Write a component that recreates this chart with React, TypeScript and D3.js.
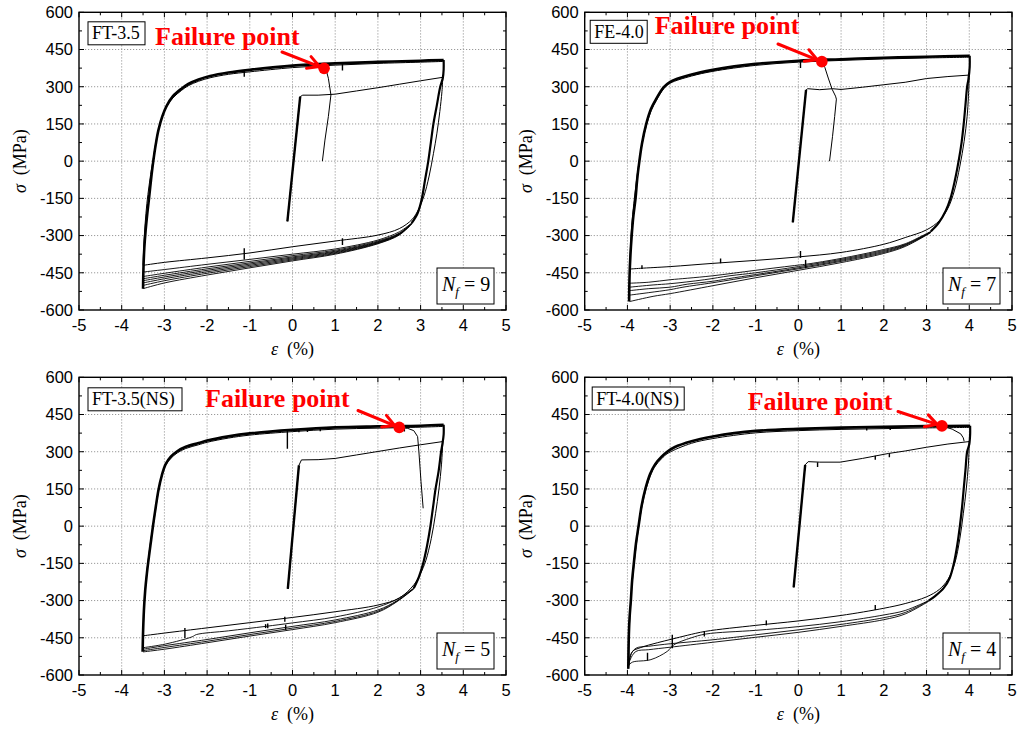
import React from 'react';
import * as d3 from 'd3';

type Pt = [number, number];
type Spike = [number, number, number];

// ---------- axes ----------
const xDomain: [number, number] = [-5, 5];
const yDomain: [number, number] = [-600, 600];
const xTicks = [-5, -4, -3, -2, -1, 0, 1, 2, 3, 4, 5];
const yTicks = [-600, -450, -300, -150, 0, 150, 300, 450, 600];
const xMinorTicks = [-4.5, -3.5, -2.5, -1.5, -0.5, 0.5, 1.5, 2.5, 3.5, 4.5];
const yMinorTicks = [-525, -375, -225, -75, 75, 225, 375, 525];

// ---------- Panel 1 : FT-3.5 ----------
const ft35Initial: Pt[] = [[-0.12, -243], [0.18, 260], [0.24, 266], [0.6, 266], [1.0, 270], [1.5, 283], [2.0, 296], [2.5, 310], [3.0, 324], [3.52, 338]];
const ft35FirstDown: Pt[] = [[3.52, 338], [3.5, 280], [3.45, 200], [3.38, 110], [3.3, 30], [3.2, -60], [3.08, -140], [2.95, -195], [2.8, -235], [2.5, -272], [2.0, -298], [1.0, -322], [0, -345], [-1, -370], [-2, -390], [-3, -408], [-3.5, -420]];
const ft35UpAlt: Pt[] = [[-3.5, -420], [-3.48, -330], [-3.45, -250], [-3.41, -170], [-3.36, -100], [-3.31, -40], [-3.27, 0], [-3.21, 65], [-3.15, 120], [-3.06, 175], [-2.96, 216], [-2.8, 255], [-2.6, 285], [-2.44, 304], [-2.2, 322], [-1.93, 336], [-1.5, 350], [-1, 360], [0, 377], [1, 387], [2, 394], [3, 399], [3.53, 402]];
const ft35UpMain: Pt[] = [[-3.5, -514], [-3.49, -430], [-3.47, -350], [-3.44, -280], [-3.4, -210], [-3.36, -150], [-3.31, -70], [-3.26, 0], [-3.2, 70], [-3.14, 125], [-3.05, 180], [-2.95, 222], [-2.8, 262], [-2.6, 292], [-2.44, 311], [-2.2, 329], [-1.93, 343], [-1.5, 357], [-1, 368], [0, 385], [1, 394], [2, 400], [3, 405], [3.54, 408]];
const ft35DownMain: Pt[] = [[3.54, 408], [3.54, 370], [3.52, 335], [3.46, 300], [3.38, 225], [3.3, 150], [3.24, 75], [3.18, 0], [3.1, -80], [3.03, -150], [2.93, -210], [2.79, -250]];
const ft35Tail1: Pt[] = [[2.79, -250], [2.5, -285], [2, -318], [1, -354], [0, -375], [-1, -396], [-2, -416], [-3, -437], [-3.5, -447]];
const ft35Tail2: Pt[] = [[2.79, -250], [2.5, -290], [2, -322], [1, -359], [0, -381], [-1, -404], [-2, -427], [-3, -452], [-3.5, -465]];
const ft35Tail3: Pt[] = [[2.79, -251], [2.5, -292], [2, -325], [1, -363], [0, -386], [-1, -410], [-2, -434], [-3, -460], [-3.5, -474]];
const ft35Tail4: Pt[] = [[2.79, -252], [2.5, -294], [2, -327], [1, -366], [0, -390], [-1, -415], [-2, -440], [-3, -467], [-3.5, -482]];
const ft35Tail5: Pt[] = [[2.79, -252], [2.5, -295], [2, -329], [1, -369], [0, -394], [-1, -420], [-2, -446], [-3, -474], [-3.5, -491]];
const ft35Tail6: Pt[] = [[2.79, -253], [2.5, -296], [2, -331], [1, -372], [0, -398], [-1, -425], [-2, -452], [-3, -482], [-3.5, -501]];
const ft35Tail7: Pt[] = [[2.79, -254], [2.5, -298], [2, -333], [1, -375], [0, -402], [-1, -430], [-2, -459], [-3, -491], [-3.5, -514]];
const ft35Failure: Pt[] = [[0.74, 375], [0.8, 360], [0.84, 334], [0.9, 267], [0.84, 180], [0.76, 85], [0.7, 0]];
const ft35FailurePt: Pt = [0.74, 374];
const ft35Spikes: Spike[] = [[-1.13, 366, 340], [1.17, 392, 365], [-1.13, -396, -351], [1.17, -338, -311]];

// ---------- Panel 2 : FE-4.0 ----------
const fe40Initial: Pt[] = [[-0.13, -247], [0.18, 287], [0.22, 292], [0.5, 288], [0.8, 292], [1.0, 289], [1.5, 298], [2.0, 308], [2.5, 318], [3.0, 333], [3.5, 341], [4.0, 347]];
const fe40FirstDown: Pt[] = [[4.0, 347], [3.98, 260], [3.95, 180], [3.88, 80], [3.78, -20], [3.65, -120], [3.5, -190], [3.3, -240], [3.0, -277], [2.5, -308], [2.0, -335], [1.0, -368], [0, -386], [-1, -400], [-2, -412], [-3, -425], [-3.7, -432], [-3.95, -435]];
const fe40UpAlt: Pt[] = [[-3.95, -435], [-3.93, -350], [-3.9, -260], [-3.85, -170], [-3.79, -80], [-3.73, -5], [-3.65, 75], [-3.55, 148], [-3.44, 205], [-3.32, 245], [-3.15, 292], [-3.0, 314], [-2.5, 343], [-2, 362], [-1, 386], [0, 399], [1, 406], [2, 412], [3, 416], [4.0, 419]];
const fe40UpMain: Pt[] = [[-3.96, -566], [-3.95, -460], [-3.93, -380], [-3.9, -300], [-3.86, -220], [-3.81, -150], [-3.77, -70], [-3.72, 0], [-3.66, 70], [-3.56, 150], [-3.45, 210], [-3.33, 250], [-3.15, 298], [-3.0, 320], [-2.5, 349], [-2, 368], [-1.5, 382], [-1, 392], [0, 405], [1, 411], [2, 417], [3, 421], [4.01, 425]];
const fe40DownMain: Pt[] = [[4.01, 425], [4.01, 380], [3.98, 330], [3.95, 300], [3.91, 225], [3.87, 150], [3.82, 75], [3.75, 0], [3.66, -80], [3.56, -150], [3.45, -200], [3.28, -250], [3.1, -283]];
const fe40Tail1: Pt[] = [[3.1, -283], [2.5, -333], [2, -356], [1, -392], [0.2, -415], [0, -419], [-1, -440], [-2, -462], [-2.6, -472], [-3, -478], [-3.5, -488], [-3.95, -492]];
const fe40Tail2: Pt[] = [[3.1, -285], [2.5, -336], [2, -360], [1, -396], [0, -425], [-1, -450], [-1.6, -462], [-2.2, -478], [-3, -494], [-3.4, -499], [-3.95, -508]];
const fe40Tail3: Pt[] = [[3.1, -286], [2.5, -338], [2, -364], [1, -400], [0, -430], [-0.8, -452], [-1.5, -470], [-2, -484], [-2.6, -496], [-3, -508], [-3.5, -514], [-3.95, -522]];
const fe40Tail4: Pt[] = [[3.1, -287], [2.5, -341], [2, -368], [1, -404], [0, -434], [-1, -462], [-2, -490], [-2.7, -508], [-3, -518], [-3.5, -530], [-3.95, -540]];
const fe40Tail5: Pt[] = [[3.1, -288], [2.5, -344], [2, -372], [1, -409], [0, -440], [-1, -470], [-2, -502], [-3, -534], [-3.4, -545], [-3.95, -566]];
const fe40Failure: Pt[] = [[0.55, 401], [0.62, 378], [0.7, 335], [0.79, 290], [0.87, 262], [0.89, 250], [0.85, 180], [0.8, 100], [0.73, 0]];
const fe40FailurePt: Pt = [0.55, 401];
const fe40Spikes: Spike[] = [[-3.66, -435, -420], [-1.82, -412, -392], [0.05, -390, -362], [0.17, -432, -398], [0.05, 403, 375]];

// ---------- Panel 3 : FT-3.5(NS) ----------
const ft35nsInitial: Pt[] = [[-0.11, -253], [0.15, 245], [0.21, 267], [0.6, 268], [1.0, 273], [1.5, 287], [2.0, 301], [2.5, 315], [3.0, 328], [3.52, 341]];
const ft35nsFirstDown: Pt[] = [[3.52, 341], [3.49, 250], [3.43, 150], [3.35, 50], [3.25, -50], [3.12, -140], [3.0, -190], [2.85, -235], [2.5, -290], [2.0, -318], [1.0, -345], [0, -368], [-1, -389], [-2, -410], [-3, -431], [-3.5, -442]];
const ft35nsUpAlt: Pt[] = [[-3.5, -442], [-3.48, -350], [-3.45, -260], [-3.41, -180], [-3.36, -110], [-3.31, -45], [-3.255, 10], [-3.2, 75], [-3.14, 140], [-3.07, 198], [-2.98, 243], [-2.85, 273], [-2.7, 295], [-2.5, 313], [-2.2, 328], [-2, 338], [-1.5, 355], [-1, 367], [0, 381], [1, 391], [2, 395], [3, 399], [3.53, 402]];
const ft35nsUpMain: Pt[] = [[-3.51, -506], [-3.5, -430], [-3.48, -340], [-3.45, -260], [-3.41, -190], [-3.36, -120], [-3.31, -55], [-3.26, 10], [-3.2, 80], [-3.14, 145], [-3.06, 205], [-2.97, 250], [-2.85, 280], [-2.7, 302], [-2.5, 320], [-2.2, 335], [-2, 345], [-1.5, 362], [-1, 374], [0, 388], [1, 398], [2, 402], [3, 405], [3.54, 409]];
const ft35nsDownMain: Pt[] = [[3.54, 409], [3.54, 370], [3.51, 330], [3.48, 300], [3.42, 220], [3.35, 150], [3.29, 75], [3.23, 0], [3.15, -80], [3.06, -150], [2.96, -205], [2.84, -250]];
const ft35nsTail1: Pt[] = [[2.84, -250], [2.45, -294], [2, -326], [1, -366], [0, -390], [-0.63, -404], [-1.5, -422], [-2.25, -437], [-2.35, -446], [-2.97, -475], [-3.5, -490]];
const ft35nsTail2: Pt[] = [[2.84, -251], [2.45, -300], [2, -338], [1, -378], [0, -404], [-1, -430], [-2, -457], [-3, -482], [-3.5, -496]];
const ft35nsTail3: Pt[] = [[2.84, -252], [2.45, -302], [2, -343], [1, -384], [0, -411], [-1, -437], [-2, -464], [-3, -489], [-3.5, -502]];
const ft35nsTail4: Pt[] = [[2.84, -253], [2.45, -304], [2, -347], [1, -389], [0, -417], [-1, -443], [-2, -470], [-3, -496], [-3.5, -507]];
const ft35nsFailure: Pt[] = [[2.5, 398], [2.7, 394], [2.84, 385], [2.93, 361], [2.96, 300], [3.01, 179], [3.06, 72]];
const ft35nsFailurePt: Pt = [2.5, 398];
const ft35nsSpikes: Spike[] = [[-0.12, 386, 312], [0.15, 392, 378], [0.35, 393, 380], [0.65, 395, 383], [2.62, 398, 382], [-2.52, -451, -411], [-0.63, -411, -395], [-0.16, -418, -397], [-0.18, -385, -365], [-0.58, -412, -392]];

// ---------- Panel 4 : FT-4.0(NS) ----------
const ft40nsInitial: Pt[] = [[-0.11, -247], [0.16, 247], [0.23, 260], [0.5, 258], [0.98, 258], [1.5, 273], [2.11, 293], [2.5, 303], [3.0, 318], [3.5, 331], [4.0, 341]];
const ft40nsFirstDown: Pt[] = [[4.0, 341], [3.98, 250], [3.93, 150], [3.86, 50], [3.78, -50], [3.66, -150], [3.5, -215], [3.3, -255], [3.0, -285], [2.5, -312], [2.0, -331], [1.0, -360], [0, -382], [-1, -400], [-2.17, -424], [-2.6, -440], [-2.95, -455], [-3.3, -470], [-3.7, -490], [-3.88, -505], [-3.95, -540], [-3.98, -572]];
const ft40nsUpAlt: Pt[] = [[-3.97, -565], [-3.96, -430], [-3.93, -330], [-3.89, -230], [-3.83, -130], [-3.77, -45], [-3.7, 40], [-3.61, 120], [-3.5, 185], [-3.37, 237], [-3.2, 272], [-3.05, 294], [-2.5, 334], [-2, 353], [-1, 376], [0, 385], [1, 390], [2, 393], [3, 396], [4.0, 398]];
const ft40nsUpMain: Pt[] = [[-3.98, -575], [-3.97, -460], [-3.95, -370], [-3.92, -300], [-3.89, -220], [-3.85, -150], [-3.8, -70], [-3.74, 0], [-3.67, 80], [-3.58, 150], [-3.47, 210], [-3.35, 250], [-3.2, 280], [-3.07, 300], [-2.9, 318], [-2.5, 342], [-2, 361], [-1.5, 375], [-1, 384], [0, 392], [1, 397], [2, 400], [3, 403], [4.02, 405]];
const ft40nsDownMain: Pt[] = [[4.02, 405], [4.02, 370], [4.0, 330], [3.95, 300], [3.91, 225], [3.87, 150], [3.83, 75], [3.78, 0], [3.72, -75], [3.64, -150], [3.54, -210], [3.4, -250], [3.2, -282], [3.05, -300]];
const ft40nsTail1: Pt[] = [[3.05, -300], [2.5, -340], [2, -358], [1, -385], [0, -405], [-1, -420], [-2.17, -435], [-2.52, -451], [-2.91, -478], [-3.07, -505], [-3.45, -538], [-3.88, -548], [-3.97, -560]];
const ft40nsTail2: Pt[] = [[3.05, -301], [2.5, -348], [2, -369], [1, -396], [0, -418], [-1, -438], [-2, -458], [-2.5, -466], [-3, -474], [-3.5, -484], [-3.8, -492], [-3.93, -520], [-3.97, -555]];
const ft40nsTail3: Pt[] = [[3.05, -303], [2.5, -354], [2, -377], [1, -404], [0, -428], [-1, -448], [-2, -468], [-3, -488], [-3.5, -498], [-3.8, -505], [-3.94, -540], [-3.98, -575]];
const ft40nsFailure: Pt[] = [[3.36, 404], [3.6, 391], [3.8, 372], [3.86, 356], [3.88, 342]];
const ft40nsFailurePt: Pt = [3.36, 404];
const ft40nsSpikes: Spike[] = [[0.45, 258, 238], [1.8, 284, 268], [2.13, 294, 278], [1.6, 398, 386], [2.15, 400, 388], [1.8, -338, -318], [-0.75, -400, -380], [-2.2, -445, -424], [-2.95, -492, -438], [-3.53, -542, -510]];

// ---------- layout ----------
interface PanelDef {
  id: string; label: string; nf: string;
  x0: number; x1: number; y0: number; y1: number;
  initial: Pt[]; firstDown: Pt[]; upAlt: Pt[]; upMain: Pt[]; downMain: Pt[]; tails: Pt[][];
  failure: Pt[]; failurePt: Pt; spikes: Spike[];
  box: { dx: number; dy: number; w: number };
  failText: { dx: number; dy: number };
  arrowStart: [number, number];
}

const panels: PanelDef[] = [
  {
    id: 'p1', label: 'FT-3.5', nf: '9', x0: 79, x1: 506, y0: 12.3, y1: 310,
    initial: ft35Initial, firstDown: ft35FirstDown, upAlt: ft35UpAlt, upMain: ft35UpMain, downMain: ft35DownMain,
    tails: [ft35Tail1, ft35Tail2, ft35Tail3, ft35Tail4, ft35Tail5, ft35Tail6, ft35Tail7],
    failure: ft35Failure, failurePt: ft35FailurePt, spikes: ft35Spikes,
    box: { dx: 9, dy: 9.5, w: 57 }, failText: { dx: 76, dy: 33 }, arrowStart: [282, 52],
  },
  {
    id: 'p2', label: 'FE-4.0', nf: '7', x0: 584.7, x1: 1012, y0: 12.3, y1: 310,
    initial: fe40Initial, firstDown: fe40FirstDown, upAlt: fe40UpAlt, upMain: fe40UpMain, downMain: fe40DownMain,
    tails: [fe40Tail1, fe40Tail2, fe40Tail3, fe40Tail4, fe40Tail5],
    failure: fe40Failure, failurePt: fe40FailurePt, spikes: fe40Spikes,
    box: { dx: 5.5, dy: 8, w: 57 }, failText: { dx: 70, dy: 22 }, arrowStart: [778, 44],
  },
  {
    id: 'p3', label: 'FT-3.5(NS)', nf: '5', x0: 79, x1: 506, y0: 377.3, y1: 675,
    initial: ft35nsInitial, firstDown: ft35nsFirstDown, upAlt: ft35nsUpAlt, upMain: ft35nsUpMain, downMain: ft35nsDownMain,
    tails: [ft35nsTail1, ft35nsTail2, ft35nsTail3, ft35nsTail4],
    failure: ft35nsFailure, failurePt: ft35nsFailurePt, spikes: ft35nsSpikes,
    box: { dx: 9, dy: 10.5, w: 94 }, failText: { dx: 126, dy: 29.5 }, arrowStart: [358, 410.5],
  },
  {
    id: 'p4', label: 'FT-4.0(NS)', nf: '4', x0: 584.7, x1: 1012, y0: 377.3, y1: 675,
    initial: ft40nsInitial, firstDown: ft40nsFirstDown, upAlt: ft40nsUpAlt, upMain: ft40nsUpMain, downMain: ft40nsDownMain,
    tails: [ft40nsTail1, ft40nsTail2, ft40nsTail3],
    failure: ft40nsFailure, failurePt: ft40nsFailurePt, spikes: ft40nsSpikes,
    box: { dx: 7.5, dy: 9.7, w: 92 }, failText: { dx: 163, dy: 33 }, arrowStart: [898, 411.5],
  },
];

const SERIF = "'Liberation Serif', 'Times New Roman', serif";
const SANS = "'Liberation Sans', Arial, sans-serif";
const RED = '#ff0000';

const Panel = ({ p }: { p: PanelDef }) => {
  const xs = d3.scaleLinear().domain(xDomain).range([p.x0, p.x1]);
  const ys = d3.scaleLinear().domain(yDomain).range([p.y1, p.y0]);
  const smooth = d3.line<Pt>().x(d => xs(d[0])).y(d => ys(d[1])).curve(d3.curveCatmullRom.alpha(0.5));
  const straight = d3.line<Pt>().x(d => xs(d[0])).y(d => ys(d[1]));
  const clipId = `clip-${p.id}`;

  const fx = xs(p.failurePt[0]);
  const fy = ys(p.failurePt[1]);
  const [sx, sy] = p.arrowStart;
  const ang = Math.atan2(fy - sy, fx - sx);
  const tipX = fx - Math.cos(ang) * 5;
  const tipY = fy - Math.sin(ang) * 5;
  const hl = 13;
  const ha = 0.5;
  const h1x = tipX - hl * Math.cos(ang - ha), h1y = tipY - hl * Math.sin(ang - ha);
  const h2x = tipX - hl * Math.cos(ang + ha), h2y = tipY - hl * Math.sin(ang + ha);

  const cx = (p.x0 + p.x1) / 2;
  const cy = (p.y0 + p.y1) / 2;
  const nfX = p.x1 - 69;
  const nfY = p.y1 - 42;

  return (
    <g>
      <defs>
        <clipPath id={clipId}>
          <rect x={p.x0} y={p.y0} width={p.x1 - p.x0} height={p.y1 - p.y0} />
        </clipPath>
      </defs>
      {/* grid */}
      <g stroke="#9a9a9a" strokeWidth={1} strokeDasharray="1.2,1.8">
        {xTicks.slice(1, -1).map(t => (
          <line key={`gx${t}`} x1={xs(t)} x2={xs(t)} y1={p.y0} y2={p.y1} />
        ))}
        {yTicks.slice(1, -1).map(t => (
          <line key={`gy${t}`} x1={p.x0} x2={p.x1} y1={ys(t)} y2={ys(t)} />
        ))}
      </g>
      {/* curves */}
      <g clipPath={`url(#${clipId})`} fill="none" stroke="#000" strokeLinejoin="round">
        <path d={straight(p.initial.slice(0, 2)) || ''} strokeWidth={2.4} />
        <path d={straight(p.initial) || ''} strokeWidth={1} />
        <path d={smooth(p.firstDown) || ''} strokeWidth={1} />
        {p.tails.map((t, i) => (
          <path key={`t${i}`} d={smooth(t) || ''} strokeWidth={0.9} />
        ))}
        <path d={smooth(p.downMain) || ''} strokeWidth={2.2} />
        <path d={smooth(p.upAlt) || ''} strokeWidth={1} />
        <path d={smooth(p.upMain) || ''} strokeWidth={2.6} />
        <path d={straight(p.failure) || ''} strokeWidth={1} />
        {p.spikes.map((s, i) => (
          <line key={`s${i}`} x1={xs(s[0])} x2={xs(s[0])} y1={ys(s[1])} y2={ys(s[2])} strokeWidth={1.4} />
        ))}
      </g>
      {/* frame and ticks */}
      <rect x={p.x0} y={p.y0} width={p.x1 - p.x0} height={p.y1 - p.y0} fill="none" stroke="#000" strokeWidth={1.4} />
      <g stroke="#000" strokeWidth={1}>
        {xTicks.map(t => (
          <g key={`xt${t}`}>
            <line x1={xs(t)} x2={xs(t)} y1={p.y1} y2={p.y1 - 5} />
            <line x1={xs(t)} x2={xs(t)} y1={p.y0} y2={p.y0 + 5} />
          </g>
        ))}
        {xMinorTicks.map(t => (
          <g key={`xm${t}`}>
            <line x1={xs(t)} x2={xs(t)} y1={p.y1} y2={p.y1 - 3} />
            <line x1={xs(t)} x2={xs(t)} y1={p.y0} y2={p.y0 + 3} />
          </g>
        ))}
        {yTicks.map(t => (
          <g key={`yt${t}`}>
            <line x1={p.x0} x2={p.x0 + 5} y1={ys(t)} y2={ys(t)} />
            <line x1={p.x1} x2={p.x1 - 5} y1={ys(t)} y2={ys(t)} />
          </g>
        ))}
        {yMinorTicks.map(t => (
          <g key={`ym${t}`}>
            <line x1={p.x0} x2={p.x0 + 3} y1={ys(t)} y2={ys(t)} />
            <line x1={p.x1} x2={p.x1 - 3} y1={ys(t)} y2={ys(t)} />
          </g>
        ))}
      </g>
      {/* tick labels */}
      <g fontFamily={SANS} fontSize={16.5} fill="#000">
        {xTicks.map(t => (
          <text key={`xl${t}`} x={xs(t)} y={p.y1 + 21} textAnchor="middle">{t}</text>
        ))}
        {yTicks.map(t => (
          <text key={`yl${t}`} x={p.x0 - 6} y={ys(t)} dy="0.35em" textAnchor="end">{t}</text>
        ))}
      </g>
      {/* axis titles */}
      <text x={cx} y={p.y1 + 45} textAnchor="middle" fontFamily={SERIF} fontSize={18}>
        <tspan fontStyle="italic">ε</tspan>
        <tspan dx={9}>(%)</tspan>
      </text>
      <text transform={`translate(${p.x0 - 53},${cy}) rotate(-90)`} textAnchor="middle" fontFamily={SERIF} fontSize={18}>
        <tspan fontStyle="italic">σ</tspan>
        <tspan dx={9}>(MPa)</tspan>
      </text>
      {/* specimen label */}
      <rect x={p.x0 + p.box.dx} y={p.y0 + p.box.dy} width={p.box.w} height={23} fill="#fff" stroke="#000" strokeWidth={1} />
      <text x={p.x0 + p.box.dx + 4} y={p.y0 + p.box.dy + 17.5} fontFamily={SERIF} fontSize={18}>{p.label}</text>
      {/* Nf box */}
      <rect x={nfX} y={nfY} width={57} height={36} fill="#fff" stroke="#000" strokeWidth={1} />
      <text x={nfX + 5} y={nfY + 23} fontFamily={SERIF} fontSize={20}>
        <tspan fontStyle="italic">N</tspan>
        <tspan fontStyle="italic" fontSize={13} dy={5}>f</tspan>
        <tspan dy={-5} dx={5}>= {p.nf}</tspan>
      </text>
      {/* failure annotation */}
      <text x={p.x0 + p.failText.dx} y={p.y0 + p.failText.dy} fontFamily={SERIF} fontSize={26} fontWeight="bold" fill={RED}>Failure point</text>
      <g stroke={RED} strokeWidth={3} fill="none" strokeLinecap="round" strokeLinejoin="round">
        <line x1={sx} y1={sy} x2={tipX} y2={tipY} />
        <polyline points={`${h1x},${h1y} ${tipX},${tipY} ${h2x},${h2y}`} />
      </g>
      <circle cx={fx} cy={fy} r={5.8} fill={RED} />
    </g>
  );
};

export default function App() {
  return (
    <svg width={1017} height={731} style={{ position: 'absolute', left: 0, top: 0, background: '#fff' }}>
      <rect x={0} y={0} width={1017} height={731} fill="#fff" />
      {panels.map(p => <Panel key={p.id} p={p} />)}
    </svg>
  );
}
